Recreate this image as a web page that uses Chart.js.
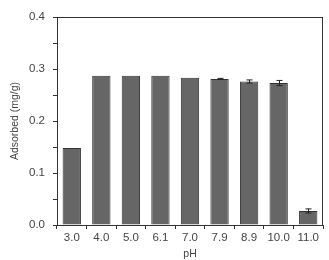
<!DOCTYPE html>
<html>
<head>
<meta charset="utf-8">
<script src="https://cdn.jsdelivr.net/npm/chart.js@4/dist/chart.umd.min.js"></script>
<style>
  html, body { margin: 0; padding: 0; background: #fff; }
  #wrap { width: 329px; height: 260px; position: relative; }
</style>
</head>
<body>
<div id="wrap"><canvas id="c"></canvas></div>
<script>
/* ── Data ─────────────────────────────────────────────────────── */
const phLabels = ["3.0", "4.0", "5.0", "6.1", "7.0", "7.9", "8.9", "10.0", "11.0"];
const adsorbed = [0.148, 0.287, 0.287, 0.287, 0.283, 0.281, 0.276, 0.273, 0.027];
const errors   = [0, 0, 0, 0, 0, 0.001, 0.003, 0.005, 0.004];

/* ── Plugins ──────────────────────────────────────────────────── */
const frame = {
  id: "frame",
  afterDraw(chart) {
    const a = chart.chartArea, ctx = chart.ctx;
    ctx.save();
    ctx.strokeStyle = "#333";
    ctx.lineWidth = 1;
    ctx.strokeRect(Math.round(a.left) + 0.5, Math.round(a.top) + 0.5,
      Math.round(a.right - a.left) - 1, Math.round(a.bottom - a.top));
    ctx.restore();
  }
};

const errorBars = {
  id: "errorBars",
  afterDatasetsDraw(chart) {
    const meta = chart.getDatasetMeta(0);
    const y = chart.scales.y, ctx = chart.ctx;
    ctx.save();
    ctx.strokeStyle = "#222";
    ctx.lineWidth = 1;
    meta.data.forEach(function (bar, i) {
      const e = errors[i];
      if (!e) return;
      const x = Math.round(bar.x) + 0.5;
      const hi = y.getPixelForValue(adsorbed[i] + e);
      const lo = y.getPixelForValue(adsorbed[i] - e);
      ctx.beginPath();
      ctx.moveTo(x, hi); ctx.lineTo(x, lo);
      ctx.moveTo(x - 3, hi); ctx.lineTo(x + 3, hi);
      ctx.moveTo(x - 3, lo); ctx.lineTo(x + 3, lo);
      ctx.stroke();
    });
    ctx.restore();
  }
};

/* ── Chart ────────────────────────────────────────────────────── */
Chart.defaults.font.family = "'Liberation Sans', Arial, sans-serif";
Chart.defaults.color = "#444";

new Chart(document.getElementById("c"), {
  type: "bar",
  data: {
    labels: phLabels,
    datasets: [{
      data: adsorbed,
      backgroundColor: "#666666",
      borderColor: "#333333",
      borderWidth: 1,
      barPercentage: 0.62,
      categoryPercentage: 1.0,
    }],
  },
  options: {
    responsive: true,
    maintainAspectRatio: false,
    animation: false,
    layout: { padding: { top: 17, right: 6, left: 0, bottom: 0 } },
    plugins: {
      legend: { display: false },
      tooltip: { enabled: false },
    },
    scales: {
      x: {
        offset: true,
        grid: { offset: true, drawOnChartArea: false, tickLength: 4, color: "#333" },
        border: { color: "#333" },
        ticks: { font: { size: 11.5 }, padding: 2, color: "#444" },
        title: { display: true, text: "pH", font: { size: 10.5 }, padding: { top: 2, bottom: 0 } },
        afterFit(s) { s.height = 35; },
      },
      y: {
        min: 0,
        max: 0.4,
        grid: { drawOnChartArea: false, tickLength: 4, color: "#333" },
        border: { color: "#333" },
        ticks: {
          stepSize: 0.05,
          font: { size: 11.5 },
          padding: 8,
          color: "#444",
          callback: function (v, i) { return i % 2 === 0 ? v.toFixed(1) : ""; },
        },
        title: { display: true, text: "Adsorbed (mg/g)", font: { size: 10.5 }, padding: { top: 9, bottom: 0 } },
        afterFit(s) { s.width = 57; },
      },
    },
  },
  plugins: [frame, errorBars],
});
</script>
</body>
</html>
